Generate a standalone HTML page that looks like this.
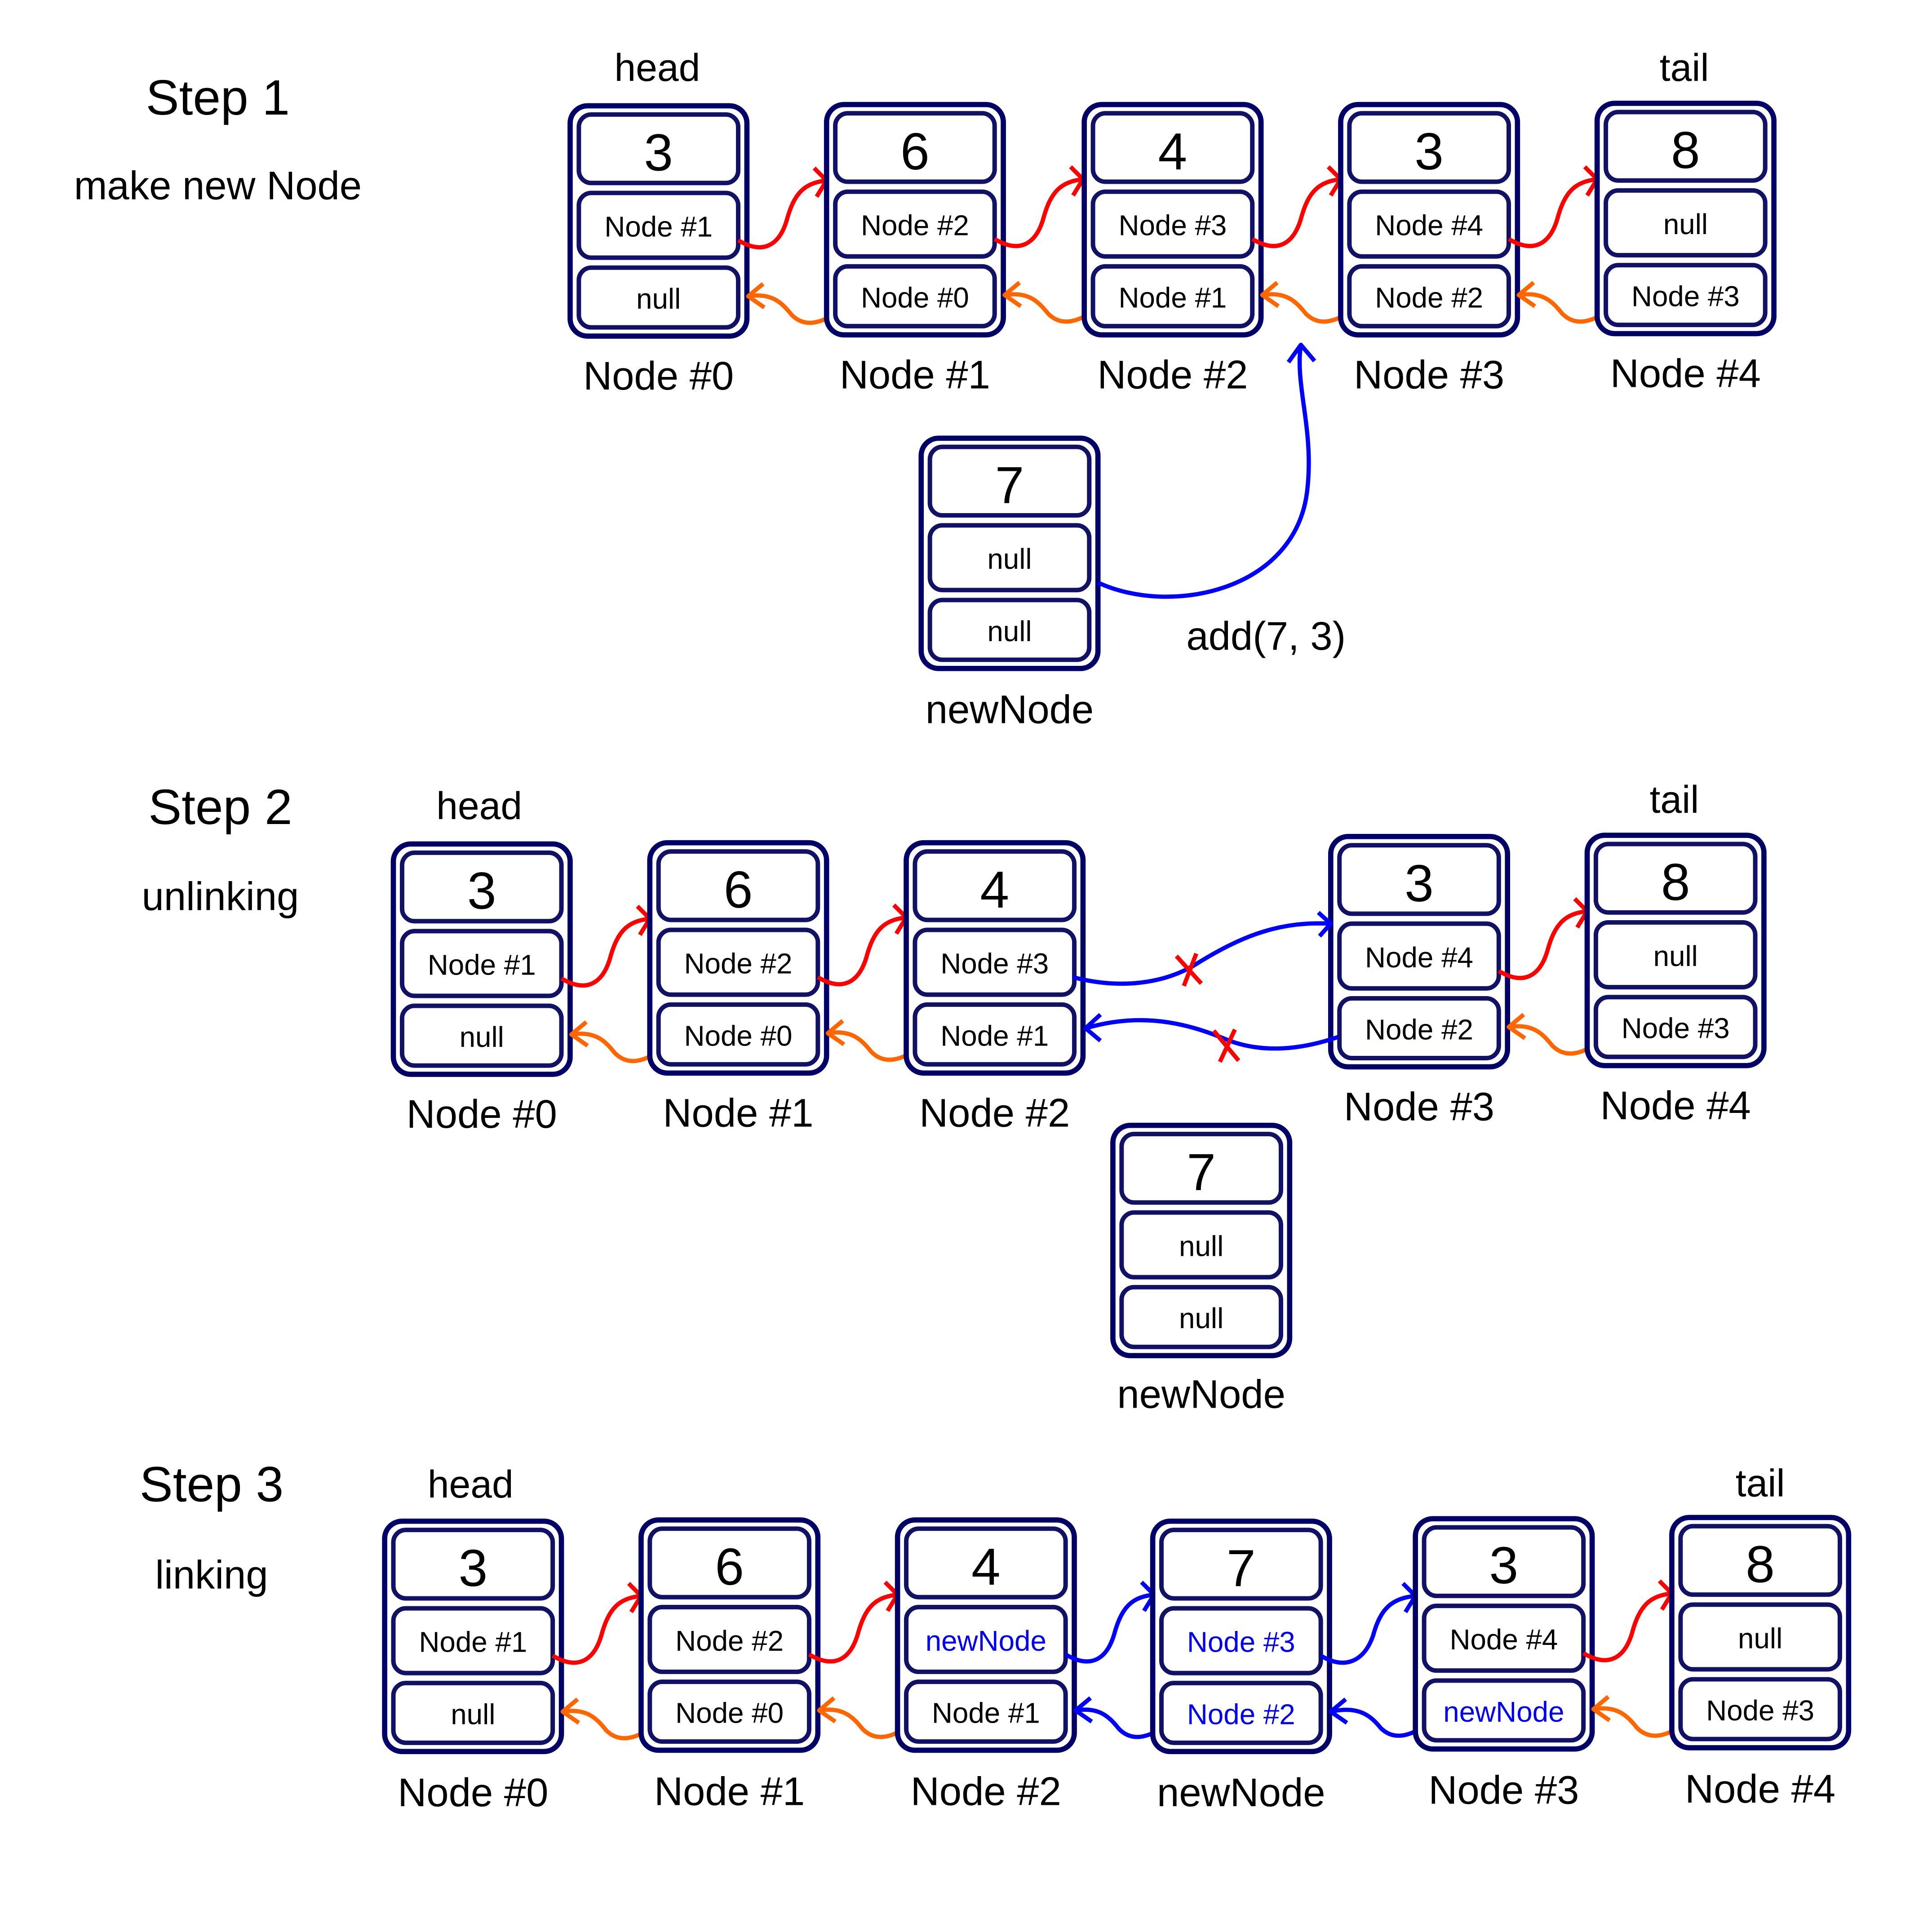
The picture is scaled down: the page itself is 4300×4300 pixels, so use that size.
<!DOCTYPE html>
<html><head><meta charset="utf-8"><style>
html,body{margin:0;padding:0;background:#fff}
svg{display:block}
text{font-family:"Liberation Sans",sans-serif;fill:#000;text-anchor:middle}
.o{fill:#fff;stroke:#000066;stroke-width:4.2}
.i{fill:#fff;stroke:#111166;stroke-width:3.6}
.v{font-size:42px}
.f{font-size:23px}
.b{fill:#0000ee}
.r{fill:none;stroke:#ff0000;stroke-width:3.4;stroke-linejoin:round}
.g{fill:none;stroke:#ff6600;stroke-width:3.4;stroke-linejoin:round}
.u{fill:none;stroke:#0000ff;stroke-width:3.4;stroke-linejoin:round}
.lb{font-size:32px}
</style></head><body>
<svg width="4300" height="4300" viewBox="0 0 1552 1552" xmlns="http://www.w3.org/2000/svg">
<defs>
<g id="box">
<rect class="o" x="0" y="0" width="142" height="185" rx="14"/>
<rect class="i" x="7" y="7" width="128" height="55" rx="10"/>
<rect class="i" x="7" y="70" width="128" height="52" rx="10"/>
<rect class="i" x="7" y="130" width="128" height="48" rx="10"/>
</g>
<g id="ra">
<path class="r" d="M135,108 C155,120 168,112 174,92 C180,70 188,62 206,60"/>
<path class="r" d="M196,50 L206,60 L198,73"/>
</g>
<g id="oa">
<path class="g" d="M213,167 C200,175 188,178 178,168 C170,158 162,150 143,153"/>
<path class="g" d="M155,143 L143,153 L156,162"/>
</g>
<g id="ba">
<path class="u" d="M135,108 C155,120 168,112 174,92 C180,70 188,62 206,60"/>
<path class="u" d="M196,50 L206,60 L198,73"/>
</g>
<g id="bo">
<path class="u" d="M213,167 C200,175 188,178 178,168 C170,158 162,150 143,153"/>
<path class="u" d="M155,143 L143,153 L156,162"/>
</g>
</defs>

<!-- STEP 1 -->
<text x="175" y="92" style="font-size:40px">Step 1</text>
<text x="175" y="160" class="lb">make new Node</text>
<text x="528" y="65" style="font-size:31px">head</text>
<text x="1353" y="65" style="font-size:31px">tail</text>

<g transform="translate(458,85)"><use href="#box"/><text x="71" y="52" class="v">3</text><text x="71" y="105" class="f">Node #1</text><text x="71" y="163" class="f">null</text><use href="#ra"/><use href="#oa"/><text x="71" y="228" class="lb">Node #0</text></g>
<g transform="translate(664,84)"><use href="#box"/><text x="71" y="52" class="v">6</text><text x="71" y="105" class="f">Node #2</text><text x="71" y="163" class="f">Node #0</text><use href="#ra"/><use href="#oa"/><text x="71" y="228" class="lb">Node #1</text></g>
<g transform="translate(871,84)"><use href="#box"/><text x="71" y="52" class="v">4</text><text x="71" y="105" class="f">Node #3</text><text x="71" y="163" class="f">Node #1</text><use href="#ra"/><use href="#oa"/><text x="71" y="228" class="lb">Node #2</text></g>
<g transform="translate(1077,84)"><use href="#box"/><text x="71" y="52" class="v">3</text><text x="71" y="105" class="f">Node #4</text><text x="71" y="163" class="f">Node #2</text><use href="#ra"/><use href="#oa"/><text x="71" y="228" class="lb">Node #3</text></g>
<g transform="translate(1283,83)"><use href="#box"/><text x="71" y="52" class="v">8</text><text x="71" y="105" class="f">null</text><text x="71" y="163" class="f">Node #3</text><text x="71" y="228" class="lb">Node #4</text></g>

<g transform="translate(740,352)"><use href="#box"/><text x="71" y="52" class="v">7</text><text x="71" y="105" class="f">null</text><text x="71" y="163" class="f">null</text><text x="71" y="229" class="lb">newNode</text></g>
<path class="u" d="M882,468 C940,495 1040,475 1050,395 C1056,345 1040,310 1045,277"/>
<path class="u" d="M1035,291 L1045,277 L1056,290"/>
<text x="1017" y="522" class="lb">add(7, 3)</text>

<!-- STEP 2 -->
<text x="177" y="662" style="font-size:40px">Step 2</text>
<text x="177" y="731" class="lb">unlinking</text>
<text x="385" y="658" style="font-size:31px">head</text>
<text x="1345" y="653" style="font-size:31px">tail</text>

<g transform="translate(316,678)"><use href="#box"/><text x="71" y="52" class="v">3</text><text x="71" y="105" class="f">Node #1</text><text x="71" y="163" class="f">null</text><use href="#ra"/><use href="#oa"/><text x="71" y="228" class="lb">Node #0</text></g>
<g transform="translate(522,677)"><use href="#box"/><text x="71" y="52" class="v">6</text><text x="71" y="105" class="f">Node #2</text><text x="71" y="163" class="f">Node #0</text><use href="#ra"/><use href="#oa"/><text x="71" y="228" class="lb">Node #1</text></g>
<g transform="translate(728,677)"><use href="#box"/><text x="71" y="52" class="v">4</text><text x="71" y="105" class="f">Node #3</text><text x="71" y="163" class="f">Node #1</text><text x="71" y="228" class="lb">Node #2</text></g>
<g transform="translate(1069,672)"><use href="#box"/><text x="71" y="52" class="v">3</text><text x="71" y="105" class="f">Node #4</text><text x="71" y="163" class="f">Node #2</text><use href="#ra"/><use href="#oa"/><text x="71" y="228" class="lb">Node #3</text></g>
<g transform="translate(1275,671)"><use href="#box"/><text x="71" y="52" class="v">8</text><text x="71" y="105" class="f">null</text><text x="71" y="163" class="f">Node #3</text><text x="71" y="228" class="lb">Node #4</text></g>

<path class="u" d="M862,785 C900,795 935,790 960,775 C1000,750 1030,740 1069,742"/>
<path class="u" d="M1059,733 L1069,742 L1060,752"/>
<path class="r" d="M945,768 L965,790 M961,766 L951,792"/>
<path class="u" d="M1075,833 C1040,845 1010,845 985,835 C945,818 910,815 872,826"/>
<path class="u" d="M884,815 L872,826 L884,836"/>
<path class="r" d="M975,828 L995,852 M992,827 L980,853"/>

<g transform="translate(894,904)"><use href="#box"/><text x="71" y="52" class="v">7</text><text x="71" y="105" class="f">null</text><text x="71" y="163" class="f">null</text><text x="71" y="227" class="lb">newNode</text></g>

<!-- STEP 3 -->
<text x="170" y="1206" style="font-size:40px">Step 3</text>
<text x="170" y="1276" class="lb">linking</text>
<text x="378" y="1203" style="font-size:31px">head</text>
<text x="1414" y="1202" style="font-size:31px">tail</text>

<g transform="translate(309,1222)"><use href="#box"/><text x="71" y="52" class="v">3</text><text x="71" y="105" class="f">Node #1</text><text x="71" y="163" class="f">null</text><use href="#ra"/><use href="#oa"/><text x="71" y="229" class="lb">Node #0</text></g>
<g transform="translate(515,1221)"><use href="#box"/><text x="71" y="52" class="v">6</text><text x="71" y="105" class="f">Node #2</text><text x="71" y="163" class="f">Node #0</text><use href="#ra"/><use href="#oa"/><text x="71" y="229" class="lb">Node #1</text></g>
<g transform="translate(721,1221)"><use href="#box"/><text x="71" y="52" class="v">4</text><text x="71" y="105" class="f b">newNode</text><text x="71" y="163" class="f">Node #1</text><use href="#ba"/><use href="#bo"/><text x="71" y="229" class="lb">Node #2</text></g>
<g transform="translate(926,1222)"><use href="#box"/><text x="71" y="52" class="v">7</text><text x="71" y="105" class="f b">Node #3</text><text x="71" y="163" class="f b">Node #2</text><text x="71" y="229" class="lb">newNode</text></g>
<g transform="translate(926,1222)">
<path class="u" d="M135,108 C155,120 170,112 177,92 C183,70 192,62 211,60"/>
<path class="u" d="M201,50 L211,60 L203,73"/>
<path class="u" d="M218,165 C205,173 193,176 183,166 C175,156 165,148 143,153"/>
<path class="u" d="M155,143 L143,153 L156,162"/>
</g>
<g transform="translate(1137,1220)"><use href="#box"/><text x="71" y="52" class="v">3</text><text x="71" y="105" class="f">Node #4</text><text x="71" y="163" class="f b">newNode</text><use href="#ra"/><use href="#oa"/><text x="71" y="229" class="lb">Node #3</text></g>
<g transform="translate(1343,1219)"><use href="#box"/><text x="71" y="52" class="v">8</text><text x="71" y="105" class="f">null</text><text x="71" y="163" class="f">Node #3</text><text x="71" y="229" class="lb">Node #4</text></g>
</svg>
</body></html>
